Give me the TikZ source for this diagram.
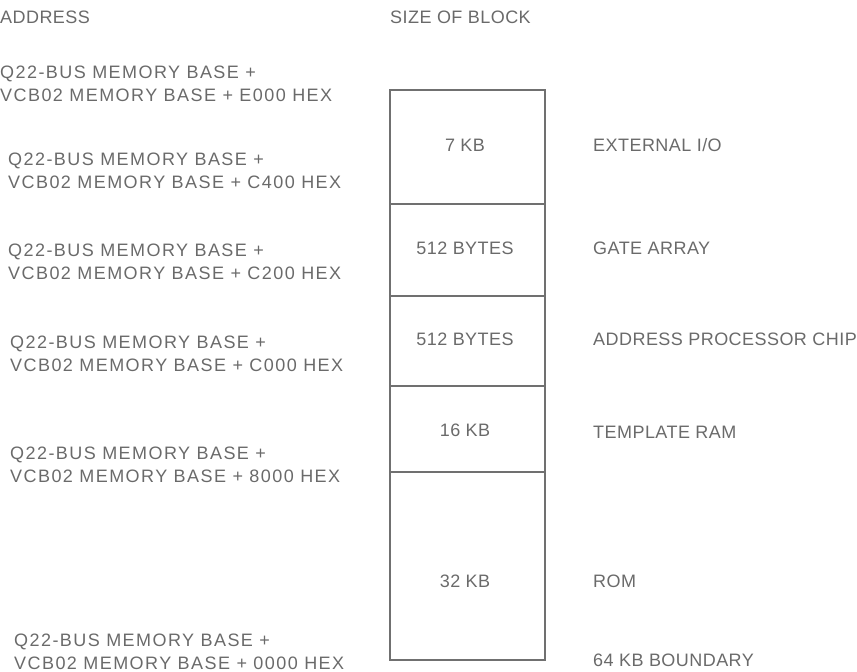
\documentclass[tikz,border=0pt]{standalone}
\usepackage{fontspec}
\setmainfont{Liberation Sans}
\newfontfamily\widefont[LetterSpace=8]{Liberation Sans}
\newfontfamily\narrowfont[LetterSpace=2.5]{Liberation Sans}
\definecolor{ink}{HTML}{707070}
\definecolor{txt}{HTML}{6A6A6A}
\begin{document}
\begin{tikzpicture}[x=1pt,y=-1pt,
  lbl/.style={font=\narrowfont\fontsize{18}{23}\selectfont, text=txt, inner sep=0pt},
  addr/.style={font=\widefont\fontsize{18}{23}\selectfont, text=txt, inner sep=0pt, anchor=west, align=left},
  cell/.style={draw=ink, line width=2.4pt, minimum width=155pt, inner sep=0pt, anchor=north west}]
\useasboundingbox (0,0) rectangle (857,672);
\node[lbl, anchor=west] (hA) at (0,17) {ADDRESS};
\node[lbl, anchor=west] (hS) at (390,17) {SIZE OF BLOCK};
% memory cells
\node[cell, minimum height=114pt] (c1) at (389,89) {};
\node[cell, minimum height=92pt] (c2) at (389,203) {};
\node[cell, minimum height=90pt] (c3) at (389,295) {};
\node[cell, minimum height=86pt] (c4) at (389,385) {};
\node[cell, minimum height=188pt] (c5) at (389,471) {};
% sizes
\node[lbl] (s1) at (465,145) {7 KB};
\node[lbl] (s2) at (465,248) {512 BYTES};
\node[lbl] (s3) at (465,339) {512 BYTES};
\node[lbl] (s4) at (465,430) {16 KB};
\node[lbl] (s5) at (465,581) {32 KB};
% names
\node[lbl, anchor=west] (n1) at (593,145) {EXTERNAL I/O};
\node[lbl, anchor=west] (n2) at (593,248) {GATE ARRAY};
\node[lbl, anchor=west] (n3) at (593,339) {ADDRESS PROCESSOR CHIP};
\node[lbl, anchor=west] (n4) at (593,432) {TEMPLATE RAM};
\node[lbl, anchor=west] (n5) at (593,581) {ROM};
\node[lbl, anchor=west] (n6) at (593,660) {64 KB BOUNDARY};
% addresses
\node[addr] (a1) at (0,83.5) {Q22-BUS MEMORY BASE +\\VCB02 MEMORY BASE + E000 HEX};
\node[addr] (a2) at (8,170.5) {Q22-BUS MEMORY BASE +\\VCB02 MEMORY BASE + C400 HEX};
\node[addr] (a3) at (8,261.5) {Q22-BUS MEMORY BASE +\\VCB02 MEMORY BASE + C200 HEX};
\node[addr] (a4) at (10,354) {Q22-BUS MEMORY BASE +\\VCB02 MEMORY BASE + C000 HEX};
\node[addr] (a5) at (10,465) {Q22-BUS MEMORY BASE +\\VCB02 MEMORY BASE + 8000 HEX};
\node[addr] (a6) at (14,652) {Q22-BUS MEMORY BASE +\\VCB02 MEMORY BASE + 0000 HEX};
\end{tikzpicture}
\end{document}
